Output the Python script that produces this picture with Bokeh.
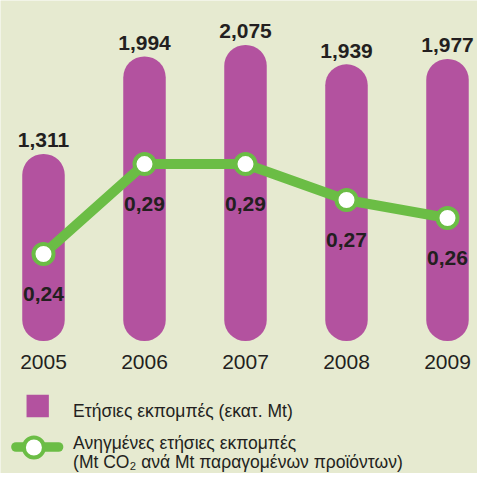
from bokeh.plotting import figure
from bokeh.models import Range1d, ColumnDataSource
from bokeh.core.properties import value
from bokeh.embed import file_html
from bokeh.resources import INLINE

# ---- data ----
years = [2005, 2006, 2007, 2008, 2009]
year_labels = ["2005", "2006", "2007", "2008", "2009"]
emissions = [1.311, 1.994, 2.075, 1.939, 1.977]          # εκατ. Mt
intensity = [0.24, 0.29, 0.29, 0.27, 0.26]               # Mt CO2 / Mt προϊόντων
legend_labels = [
    "Ετήσιες εκπομπές (εκατ. Mt)",
    "Ανηγμένες ετήσιες εκπομπές",
    "(Mt CO₂ ανά Mt παραγομένων προϊόντων)",
]

# ---- style ----
BG = "#e6ead0"
PURPLE = "#b3529f"
GREEN = "#6bbd45"
TXT = "#231f20"
FONT = value("Liberation Sans")

W, H = 477, 473

p = figure(width=W, height=H, output_backend="svg", toolbar_location=None,
           x_range=Range1d(2004.5743, 2009.2971), y_range=Range1d(-0.9285, 2.3861),
           min_border=0, min_border_left=0, min_border_right=0,
           min_border_top=0, min_border_bottom=0)
p.extra_y_ranges = {"r": Range1d(0.11802, 0.38088), "py": Range1d(H, 0)}
p.extra_x_ranges = {"px": Range1d(0, W)}
p.axis.visible = False
p.grid.visible = False
p.outline_line_color = None
p.background_fill_color = BG
p.border_fill_color = BG

src = ColumnDataSource(dict(
    x=years, yl=year_labels, e=emissions, i=intensity,
    el=[f"{v:.3f}".replace(".", ",") for v in emissions],
    il=[f"{v:.2f}".replace(".", ",") for v in intensity],
))

# bars with rounded ends
p.vbar(x="x", top="e", bottom=0, width=0.4208, source=src,
       fill_color=PURPLE, line_color=None, border_radius=21)

# intensity line + markers
p.line(x="x", y="i", source=src, y_range_name="r", line_width=10,
       line_color=GREEN, line_join="round")
p.scatter(x="x", y="i", source=src, y_range_name="r", size=20,
          fill_color="white", line_color=GREEN, line_width=4)

# value labels
p.text(x="x", y="e", text="el", source=src, y_offset=-13.5,
       text_align="center", text_baseline="alphabetic",
       text_font=FONT, text_font_style="bold", text_font_size="21px", text_color=TXT)
p.text(x="x", y="i", text="il", source=src, y_range_name="r", y_offset=40,
       text_align="center", text_baseline="alphabetic",
       text_font=FONT, text_font_style="bold", text_font_size="21px", text_color=TXT)
p.text(x="x", y=0, text="yl", source=src, y_offset=20.5,
       text_align="center", text_baseline="alphabetic",
       text_font=FONT, text_font_size="21px", text_color=TXT)

# legend (drawn in pixel space)
p.scatter(x=[37.2], y=[405.5], marker="square", size=22.3, x_range_name="px",
          y_range_name="py", fill_color=PURPLE, line_color=None)
p.line(x=[15.5, 58], y=[446.5, 446.5], x_range_name="px", y_range_name="py",
       line_width=9.7, line_color=GREEN, line_cap="round")
p.scatter(x=[33.4], y=[447], x_range_name="px", y_range_name="py", size=20,
          fill_color="white", line_color=GREEN, line_width=4)
p.text(x=[72.6, 72.6, 72.6], y=[410.5, 442.5, 461.5], text=legend_labels,
       x_range_name="px", y_range_name="py", text_baseline="alphabetic",
       text_font=FONT, text_font_size="17.5px", text_color=TXT)

open("out.html", "w").write(file_html(p, INLINE))
